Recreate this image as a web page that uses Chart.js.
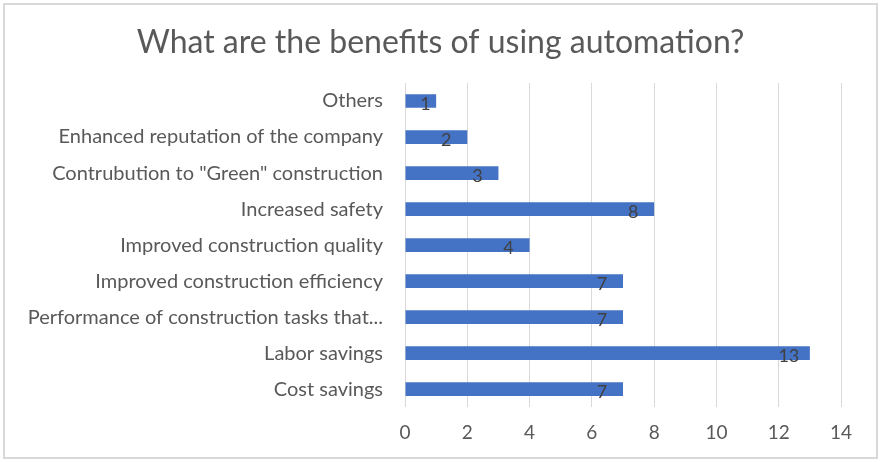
<!DOCTYPE html>
<html>
<head>
<meta charset="utf-8">
<script src="https://cdn.jsdelivr.net/npm/chart.js@4"></script>
<style>
  html, body { margin: 0; padding: 0; background: #fff; }
  #wrap { width: 881px; height: 462px; }
</style>
</head>
<body>
<div id="wrap"><canvas id="chart" width="881" height="462"></canvas></div>
<script>
const categories = ['Others', 'Enhanced reputation of the company', 'Contrubution to "Green" construction',
  'Increased safety', 'Improved construction quality', 'Improved construction efficiency',
  'Performance of construction tasks that...', 'Labor savings', 'Cost savings'];
const responses = [1, 2, 3, 8, 4, 7, 7, 13, 7];
const xTicks = [0, 2, 4, 6, 8, 10, 12, 14];
const titleText = 'What are the benefits of using automation?';

const FONT = 'Lato, "Open Sans", sans-serif';
const GREY = '#595959';

// light frame around the whole chart, title centred on the frame
const frame = {
  id: 'frame',
  beforeDraw(chart) {
    const ctx = chart.ctx;
    ctx.save();
    ctx.fillStyle = '#fff';
    ctx.fillRect(0, 0, chart.width, chart.height);
    ctx.strokeStyle = '#d9d9d9';
    ctx.lineWidth = 2;
    ctx.strokeRect(4, 4, chart.width - 8, chart.height - 8);
    ctx.font = '32px ' + FONT;
    ctx.fillStyle = GREY;
    ctx.textAlign = 'center';
    ctx.textBaseline = 'middle';
    ctx.fillText(titleText, chart.width / 2, 43);
    ctx.restore();
  }
};

// value labels near the end of each bar
const barValues = {
  id: 'barValues',
  afterDatasetsDraw(chart) {
    const ctx = chart.ctx;
    const meta = chart.getDatasetMeta(0);
    ctx.save();
    ctx.font = '18px ' + FONT;
    ctx.fillStyle = '#404040';
    ctx.textAlign = 'center';
    ctx.textBaseline = 'middle';
    meta.data.forEach((bar, i) => {
      const len = bar.x - bar.base;
      let x = bar.x - 21;
      if (len < 45) x = bar.base + len * 0.65;
      ctx.fillText(String(responses[i]), x, bar.y + 3);
    });
    ctx.restore();
  }
};

new Chart(document.getElementById('chart').getContext('2d'), {
  type: 'bar',
  data: {
    labels: categories,
    datasets: [{
      data: responses,
      backgroundColor: '#4472C4',
      barPercentage: 0.38,
      categoryPercentage: 1
    }]
  },
  options: {
    indexAxis: 'y',
    responsive: false,
    animation: false,
    layout: { padding: { left: 10, right: 40, top: 83, bottom: 4 } },
    plugins: {
      legend: { display: false },
      tooltip: { enabled: false },
      title: { display: false }
    },
    scales: {
      x: {
        min: 0,
        max: 14,
        afterBuildTicks(scale) { scale.ticks = xTicks.map(v => ({ value: v })); },
        grid: { color: '#d9d9d9', drawTicks: false },
        border: { display: false },
        ticks: { color: GREY, font: { family: FONT, size: 19 }, padding: 14 }
      },
      y: {
        grid: { display: false, drawTicks: false },
        border: { display: false },
        ticks: { color: GREY, font: { family: FONT, size: 20 }, padding: 22 },
        afterFit(scale) { scale.width = 395; }
      }
    }
  },
  plugins: [frame, barValues]
});
</script>
</body>
</html>
